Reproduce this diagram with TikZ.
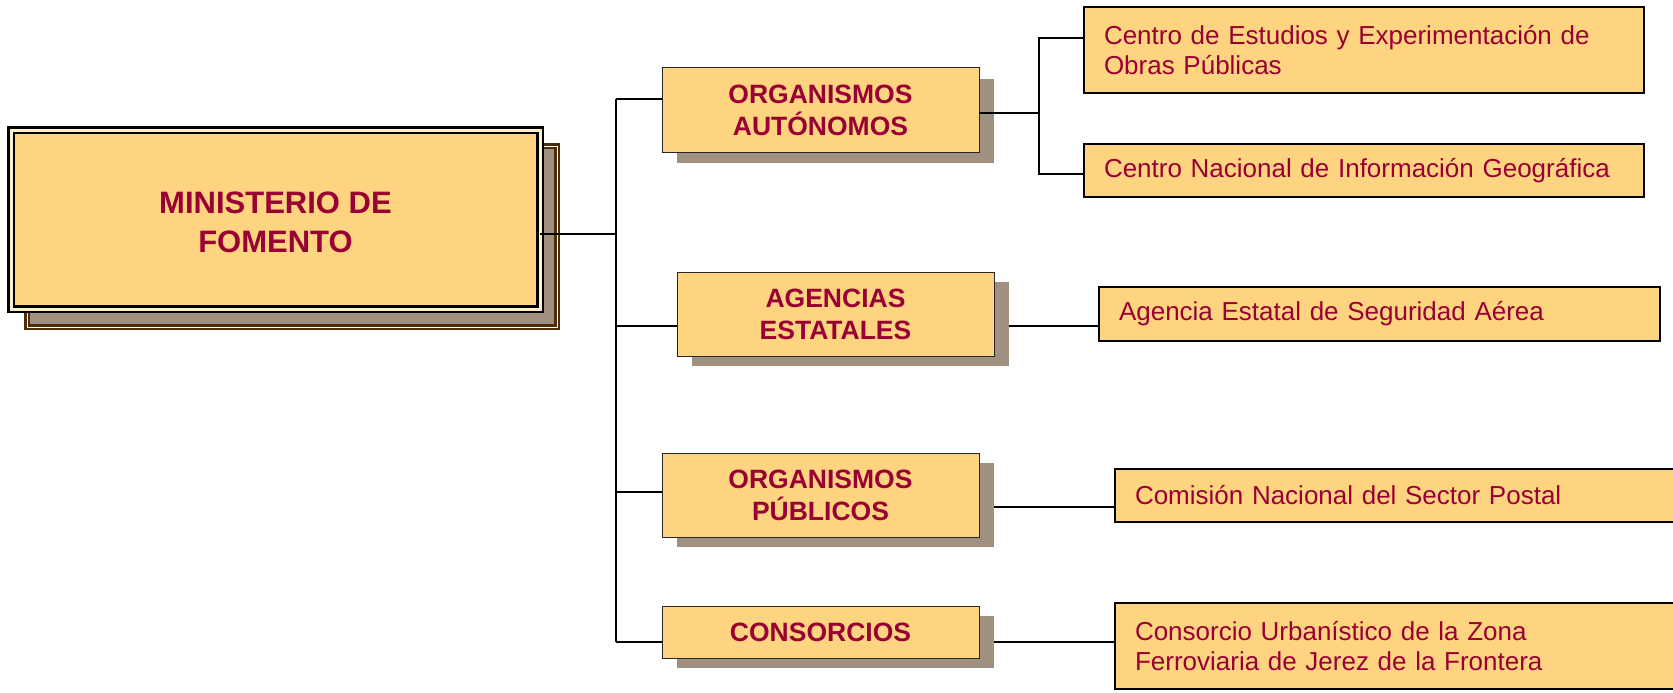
\documentclass[tikz,border=0pt]{standalone}
\usepackage{fontspec}
\setmainfont{Liberation Sans}
\usetikzlibrary{backgrounds}
\definecolor{boxfill}{RGB}{255,212,128}
\definecolor{textred}{RGB}{153,0,51}
\definecolor{shadowgray}{RGB}{160,144,128}
\definecolor{shadowbrown}{RGB}{80,45,10}
\definecolor{gapfill}{RGB}{255,240,200}
\begin{document}
\begin{tikzpicture}[x=1pt,y=-1pt,
  every node/.style={outer sep=0pt},
  conn/.style={draw=black,line width=1.6pt},
  midbox/.style={draw=black!85,line width=1pt,fill=boxfill,inner sep=0pt,anchor=north west,
    align=center,text=textred,minimum width=317pt,font=\fontsize{26.5}{32}\selectfont\bfseries},
  leafbox/.style={draw=black,line width=1.6pt,fill=boxfill,inner xsep=20pt,inner ysep=0pt,
    anchor=north west,align=left,text=textred,font=\fontsize{26}{30}\selectfont},
  shad/.style={fill=shadowgray}]
\useasboundingbox (0,0) rectangle (1673,693);
\clip (0,0) rectangle (1673,693);

% main box
\node[draw=black,line width=2.5pt,double=gapfill,double distance=3pt,fill=boxfill,
  minimum width=529pt,minimum height=179pt,inner sep=0pt,align=center,text=textred,
  font=\fontsize{31}{39}\selectfont\bfseries] (min) at (275.5,219.5) {\rule{0pt}{28pt}MINISTERIO DE\\FOMENTO};

% middle boxes
\node[midbox,minimum height=84pt] (oa) at (662,68) {ORGANISMOS\\AUTÓNOMOS};
\node[midbox,minimum height=84pt] (ag) at (677,272) {AGENCIAS\\ESTATALES};
\node[midbox,minimum height=84pt] (op) at (662,453) {ORGANISMOS\\PÚBLICOS};
\node[midbox,minimum height=52pt] (co) at (662,606) {CONSORCIOS};

% leaf boxes
\node[leafbox,text width=520pt,minimum height=86pt] (ce) at (1084,7) {Centro de Estudios y Experimentación de\\Obras Públicas};
\node[leafbox,text width=520pt,minimum height=53pt] (cn) at (1084,144) {Centro Nacional de Información Geográfica};
\node[leafbox,text width=521pt,minimum height=54pt] (ae) at (1099,287) {Agencia Estatal de Seguridad Aérea};
\node[leafbox,text width=560pt,minimum height=53pt] (cp) at (1115,469) {Comisión Nacional del Sector Postal};
\node[leafbox,text width=560pt,minimum height=86pt] (cu) at (1115,603) {Consorcio Urbanístico de la Zona\\Ferroviaria de Jerez de la Frontera};

% junction coordinates
\coordinate (tm) at (616,234);
\coordinate (ta) at (616,99);
\coordinate (tb) at (616,326);
\coordinate (tc) at (616,492);
\coordinate (td) at (616,642);
\coordinate (ra) at (1039,113);
\coordinate (rt) at (1039,38);
\coordinate (rb) at (1039,174);
\coordinate (rc) at (1000,507);

\begin{pgfonlayer}{background}
  % connectors hidden partly behind shadows
  \draw[conn] (ta) -- (td);
  \draw[conn] (ta) -- (ta -| oa.west);
  \draw[conn] (tb) -- (tb -| ag.west);
  \draw[conn] (tc) -- (tc -| op.west);
  \draw[conn] (td) -- (td -| co.west);
  \draw[conn] (tb -| ag.east) -- (tb -| ae.west);
  \draw[conn] (rc -| op.east) -- (rc -| cp.west);
  \draw[conn] (td -| co.east) -- (td -| cu.west);
  \draw[conn] (rt -| ce.west) -- (rt) -- (rb) -- (rb -| cn.west);
  % shadows
  \fill[shad] ([shift={(15,11)}]oa.north west) rectangle ([shift={(15,11)}]oa.south east);
  \fill[shad] ([shift={(15,10)}]ag.north west) rectangle ([shift={(15,10)}]ag.south east);
  \fill[shad] ([shift={(15,10)}]op.north west) rectangle ([shift={(15,10)}]op.south east);
  \fill[shad] ([shift={(15,10)}]co.north west) rectangle ([shift={(15,10)}]co.south east);
  \draw[draw=shadowbrown,double=white,double distance=1pt,line width=2.4pt,fill=shadowgray]
    ([shift={(16,16)}]min.north west) rectangle ([shift={(17,18)}]min.south east);
\end{pgfonlayer}

% connectors drawn over shadows
\draw[conn] (tm -| min.east) -- (tm);
\draw[conn] (ra -| oa.east) -- (ra);
\end{tikzpicture}
\end{document}
